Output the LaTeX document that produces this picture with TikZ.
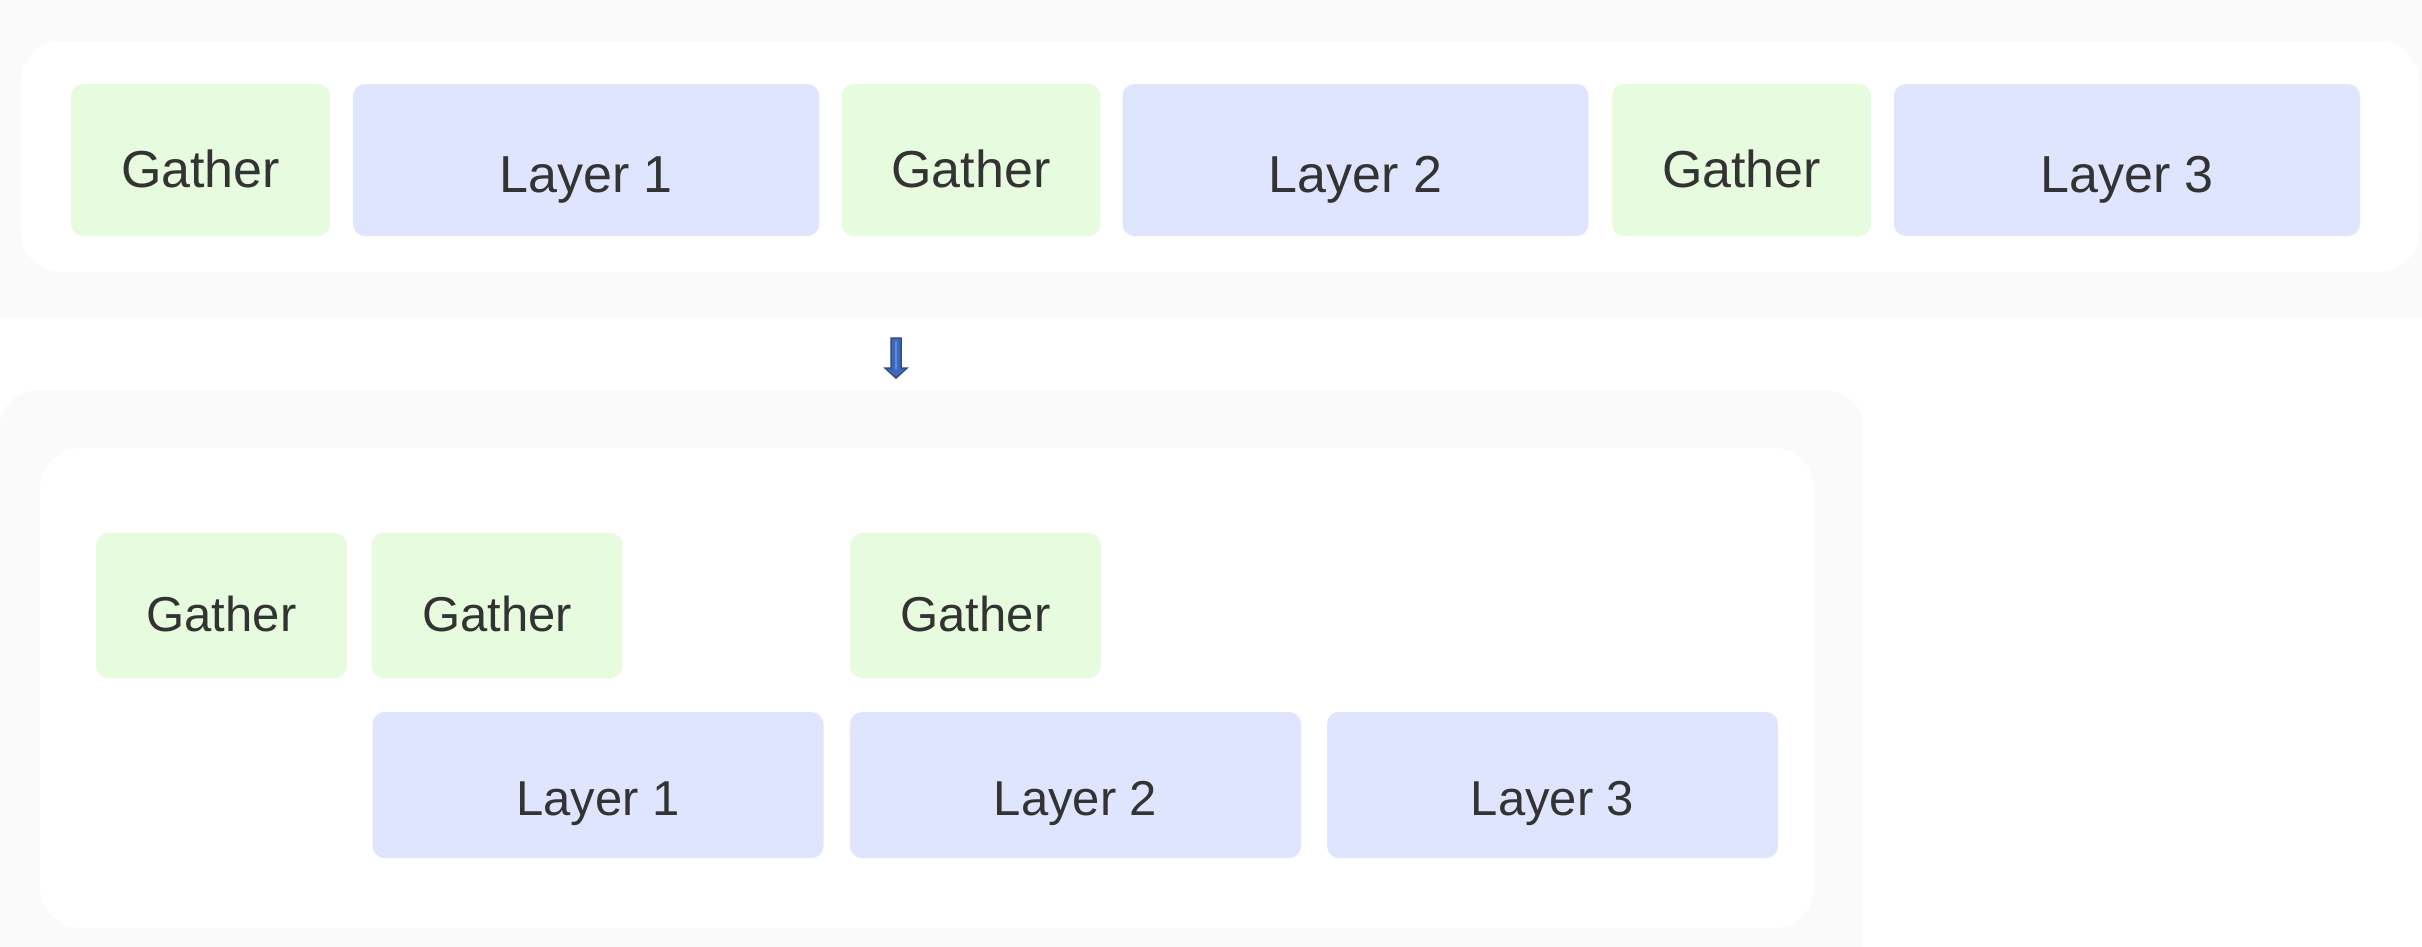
\documentclass[tikz,border=0pt]{standalone}
\usepackage{fontspec}
\setmainfont{Liberation Sans}
\definecolor{bggray}{HTML}{FAFAFA}
\definecolor{gfill}{HTML}{E7FCDF}
\definecolor{lfill}{HTML}{DFE5FE}
\definecolor{txt}{HTML}{333333}
\definecolor{arrowfill}{HTML}{3F69B8}
\definecolor{arrowline}{HTML}{2C4C8A}
\definecolor{arrowlight}{HTML}{5C8CDB}
\begin{document}
\begin{tikzpicture}[x=1pt,y=-1pt,
  box/.style={rounded corners=12pt, inner sep=0pt, text=txt, text depth=0pt, anchor=center},
  gtop/.style={box, fill=gfill, minimum width=259pt, minimum height=152pt, font=\fontsize{52}{60}\selectfont, text height=54pt},
  ltop/.style={box, fill=lfill, minimum width=466pt, minimum height=152pt, font=\fontsize{52}{60}\selectfont, text height=64pt},
  gbot/.style={box, fill=gfill, minimum width=251pt, minimum height=145pt, font=\fontsize{49}{56}\selectfont, text height=51pt},
  lbot/.style={box, fill=lfill, minimum width=451pt, minimum height=146pt, font=\fontsize{49}{56}\selectfont, text height=60pt},
  panel/.style={rounded corners=40pt}
]
% canvas
\fill[white] (0,0) rectangle (2422,946);
\useasboundingbox (0,0) rectangle (2422,946);
% top band
\fill[bggray] (0,0) rectangle (2422,318);
\fill[white, panel] (21,41) rectangle (2419,272);
% bottom outer panel
\begin{scope}
  \clip (0,0) rectangle (2422,946);
  \fill[bggray, rounded corners=36pt] (0,391) rectangle (1863,1010);
\end{scope}
\fill[white, panel] (40,448) rectangle (1814,928);

% top row
\node[gtop] (tg1) at (200.5,160) {Gather};
\node[ltop] (tl1) at (586,160) {Layer 1};
\node[gtop] (tg2) at (971,160) {Gather};
\node[ltop] (tl2) at (1355.5,160) {Layer 2};
\node[gtop] (tg3) at (1741.5,160) {Gather};
\node[ltop] (tl3) at (2127,160) {Layer 3};

% block arrow
\fill[arrowfill, draw=arrowline, line width=1.5pt, line join=miter]
  (891,338) -- (901,338) -- (901,368) -- (907,368) -- (896,378) -- (885,368) -- (891,368) -- cycle;
\draw[arrowlight, line width=2.5pt] (896,341) -- (896,369);

% bottom rows
\node[gbot] (bg1) at (221.5,605.5) {Gather};
\node[gbot] (bg2) at (497,605.5) {Gather};
\node[gbot] (bg3) at (975.5,605.5) {Gather};
\node[lbot] (bl1) at (598,785) {Layer 1};
\node[lbot] (bl2) at (1075.5,785) {Layer 2};
\node[lbot] (bl3) at (1552.5,785) {Layer 3};
\end{tikzpicture}
\end{document}
